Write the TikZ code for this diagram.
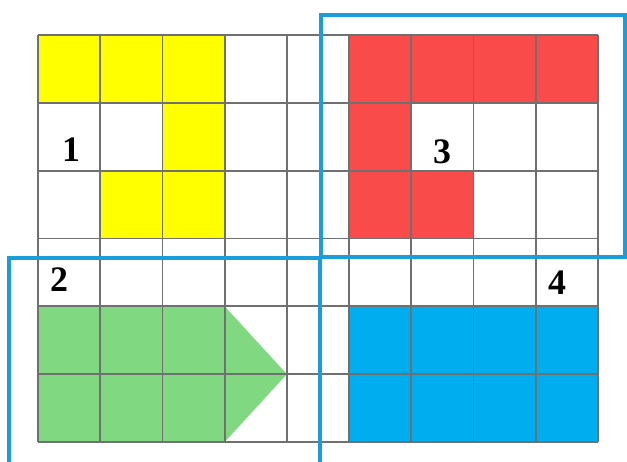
\documentclass[tikz,border=0pt]{standalone}
\usepackage{fontspec}
\setmainfont{Liberation Serif}
\definecolor{yel}{HTML}{FFFF00}
\definecolor{redc}{HTML}{FA4B4B}
\definecolor{grnc}{HTML}{80D980}
\definecolor{bluc}{HTML}{00ADEF}
\definecolor{framec}{HTML}{1A9DD9}
\definecolor{gridc}{HTML}{707070}
\tikzset{
  gridline/.style={draw=gridc, line width=1.8bp},
  frameline/.style={draw=framec, line width=4bp},
  lbl/.style={font=\bfseries\fontsize{36}{36}\selectfont, inner sep=0pt, text=black}
}
\newcommand{\cellfill}[3]{\fill[#1] ({38+#2*62.22},{35+#3*67.83}) rectangle ++(62.22,67.83);}
\begin{document}
\begin{tikzpicture}[x=1bp,y=-1bp]
\useasboundingbox (0,0) rectangle (627,462);
\fill[white] (0,0) rectangle (627,462);
% yellow
\foreach \c/\r in {0/0,1/0,2/0,2/1,1/2,2/2} {\cellfill{yel}{\c}{\r}}
% red
\foreach \c/\r in {5/0,6/0,7/0,8/0,5/1,5/2,6/2} {\cellfill{redc}{\c}{\r}}
% green
\foreach \c/\r in {0/4,1/4,2/4,0/5,1/5,2/5} {\cellfill{grnc}{\c}{\r}}
\fill[grnc] ({38+3*62.22},{35+4*67.83}) -- ({38+4*62.22},{35+5*67.83}) -- ({38+3*62.22},{35+6*67.83}) -- cycle;
% blue
\foreach \c/\r in {5/4,6/4,7/4,8/4,5/5,6/5,7/5,8/5} {\cellfill{bluc}{\c}{\r}}
% grid
\foreach \i in {0,...,9} {\draw[gridline] ({38+\i*62.22},35) -- ({38+\i*62.22},{35+6*67.83});}
\foreach \j in {0,...,6} {\draw[gridline] (38,{35+\j*67.83}) -- ({38+9*62.22},{35+\j*67.83});}
% frames
\draw[frameline] (321,15) rectangle (625,257);
\draw[frameline] (9,258) rectangle (320,480);
% labels
\node[lbl] (n1) at (71,150) {1};
\node[lbl] (n2) at (59,280) {2};
\node[lbl] (n3) at (442,152) {3};
\node[lbl] (n4) at (557,283) {4};
\end{tikzpicture}
\end{document}
